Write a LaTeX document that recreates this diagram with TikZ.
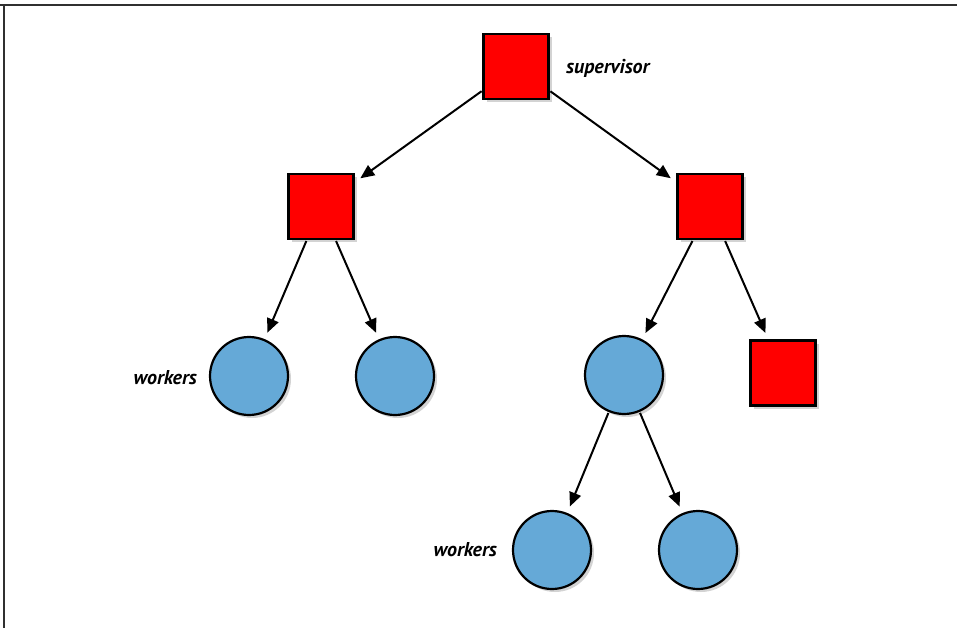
\documentclass[tikz,border=0pt]{standalone}
\usepackage{fontspec}
\setmainfont{PT Sans}
\usetikzlibrary{arrows.meta,shadows}
\definecolor{nodered}{HTML}{FF0000}
\definecolor{nodeblue}{HTML}{65A9D7}
\definecolor{framegray}{HTML}{303030}
\tikzset{
  sup/.style={draw=black, line width=2.2pt, fill=nodered, minimum size=65pt, inner sep=0pt,
    drop shadow={opacity=0.35, shadow xshift=3pt, shadow yshift=-3pt}},
  wrk/.style={circle, draw=black, line width=2.2pt, fill=nodeblue, minimum size=78pt, inner sep=0pt,
    drop shadow={opacity=0.35, shadow xshift=3pt, shadow yshift=-3pt}},
  link/.style={line width=2pt, -{Triangle[length=14pt,width=12pt]}, shorten >=7pt, shorten <=1pt},
  lbl/.style={font=\fontsize{20}{24}\selectfont\bfseries\itshape, inner sep=0pt}
}
\begin{document}
\begin{tikzpicture}[x=1pt,y=-1pt]
\useasboundingbox (0,0) rectangle (957,628);
\draw[framegray, line width=2pt] (0,5) -- (957,5);
\draw[framegray, line width=2pt] (4,5) -- (4,628);

\node[sup] (s0) at (516,66.5) {};
\node[sup] (s1) at (321,206.5) {};
\node[sup] (s2) at (710,206.5) {};
\node[wrk] (w1) at (249,376) {};
\node[wrk] (w2) at (395,376) {};
\node[wrk] (w3) at (624,375) {};
\node[sup] (s3) at (783,373) {};
\node[wrk] (w4) at (552,550) {};
\node[wrk] (w5) at (698,550) {};

\node[lbl, anchor=west] (t0) at (566,68) {supervisor};
\node[lbl, anchor=east] (t1) at (197,378) {workers};
\node[lbl, anchor=east] (t2) at (497,550) {workers};

\draw[link] (s0) -- (s1);
\draw[link] (s0) -- (s2);
\draw[link] (s1) -- (w1);
\draw[link] (s1) -- (w2);
\draw[link] (s2) -- (w3);
\draw[link] (s2) -- (s3);
\draw[link] (w3) -- (w4);
\draw[link] (w3) -- (w5);
\end{tikzpicture}
\end{document}
